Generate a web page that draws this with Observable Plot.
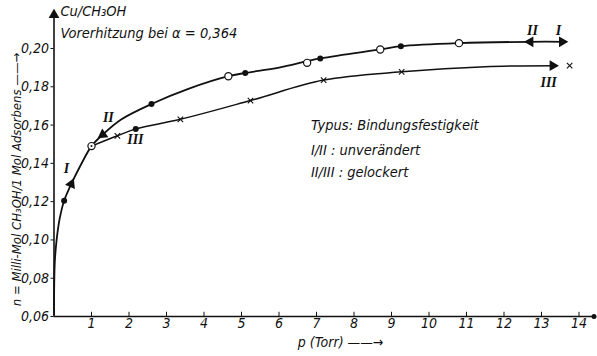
<!DOCTYPE html>
<html><head><meta charset="utf-8">
<script src="https://cdn.jsdelivr.net/npm/d3@7"></script>
<script src="https://cdn.jsdelivr.net/npm/@observablehq/plot@0.6"></script>
<style>body{margin:0;background:#fff} svg text{font-stretch:condensed}</style>
</head><body><div id="chart"></div>
<script>
// Tick values
const xTicks = [1,2,3,4,5,6,7,8,9,10,11,12,13,14];
const yTicks = [0.06,0.08,0.10,0.12,0.14,0.16,0.18,0.20];

// Curve I/II (upper) – [p, n]
const curveUpper = [[0,0.061],[0.02,0.088],[0.07,0.100],[0.15,0.111],[0.27,0.1205],[0.48,0.130],[0.71,0.139],[1.0,0.149],[1.3,0.155],[1.8,0.163],[2.6,0.171],[3.6,0.179],[4.65,0.1855],[5.1,0.1872],[6.0,0.190],[7.1,0.1948],[8.7,0.1995],[9.25,0.2012],[10.8,0.2028],[12.7,0.2035],[13.6,0.2035]];
// Curve III (lower)
const curveLower = [[1.0,0.149],[1.69,0.1544],[2.18,0.158],[3.37,0.163],[5.24,0.1728],[7.19,0.1835],[9.27,0.1878],[11.5,0.1905],[13.4,0.1910]];

// Measured points
const filledDots = [[0.27,0.1205],[2.6,0.171],[5.1,0.1872],[7.1,0.1948],[9.25,0.2012],[2.18,0.158]];
const openCircles = [[4.65,0.1855],[6.75,0.1925],[8.7,0.1995],[10.8,0.2028],[1.0,0.149]];
const crosses = [[1.69,0.1544],[3.37,0.163],[5.24,0.1728],[7.19,0.1835],[9.27,0.1878],[13.75,0.191]];

// Direction arrowheads [p, n, rotation]
const arrowHeads = [[0.46,0.1292,24],[1.3,0.155,235],[12.7,0.2035,-90],[13.55,0.2035,90],[13.3,0.191,90]];

// Curve labels [p, n, text]
const curveLabels = [[0.33,0.1372,"I"],[1.45,0.1640,"II"],[2.17,0.1524,"III"],[12.76,0.2094,"II"],[13.45,0.2094,"I"],[13.19,0.1822,"III"]];

// Annotation texts [p, n, text]
const notes = [[0.17,0.2195,"Cu/CH₃OH"],[0.17,0.2080,"Vorerhitzung bei α = 0,364"],[6.85,0.1597,"Typus: Bindungsfestigkeit"],[6.85,0.1467,"I/II : unverändert"],[6.85,0.1352,"II/III : gelockert"]];

const yLabel = "n = Milli-Mol CH₃OH/1 Mol Adsorbens ——→";
const xLabel = "p (Torr) ——→";

const FONT = "'Liberation Sans Narrow','DejaVu Sans',sans-serif";
const comma = d => d.toFixed(2).replace(".", ",");
const P = a => a.map(([x,y]) => ({x,y}));

const chart = Plot.plot({
  width: 597, height: 356,
  marginLeft: 53.5, marginRight: 3.5, marginTop: 9.7, marginBottom: 40,
  style: {fontFamily: FONT, fontStyle: "italic", fontSize: "14px", background: "#fff", color: "#111"},
  x: {domain: [0, 14.4], axis: null},
  y: {domain: [0.06, 0.22], axis: null},
  marks: [
    // axes lines
    Plot.ruleY([0.06], {x1: 0, x2: 14.4, stroke: "#111", strokeWidth: 1.6}),
    Plot.ruleX([0], {y1: 0.06, y2: 0.2185, stroke: "#111", strokeWidth: 1.6}),
    Plot.dot([{x:14.4,y:0.06}], {x:"x", y:"y", r:2.5, fill:"#111"}),
    Plot.dot([{x:0,y:0.2175}], {x:"x", y:"y", r:4, symbol:"triangle", fill:"#111", stroke:null}),
    Plot.axisY({ticks: yTicks, tickFormat: comma, tickSize: 3, tickPadding: 2, label: null, fontSize: 14}),
    Plot.ruleX(xTicks, {y1: 0.06, y2: 0.0622, stroke: "#111", strokeWidth: 1}),
    Plot.axisX({ticks: xTicks, tickFormat: d => String(d), tickSize: 0, tickPadding: 2, label: null, fontSize: 14}),
    // curves
    Plot.line(P(curveUpper), {x:"x", y:"y", curve:"catmull-rom", stroke:"#111", strokeWidth: 1.8}),
    Plot.line(P(curveLower), {x:"x", y:"y", curve:"catmull-rom", stroke:"#111", strokeWidth: 1.5}),
    // points
    Plot.dot(P(filledDots), {x:"x", y:"y", r:3, fill:"#111", stroke:null}),
    Plot.dot(P(openCircles), {x:"x", y:"y", r:3.6, fill:"#fff", stroke:"#111", strokeWidth:1.2}),
    Plot.dot([{x:1.0,y:0.149}], {x:"x", y:"y", r:1, fill:"#111"}),
    Plot.dot(P(crosses), {x:"x", y:"y", r:2.6, symbol:"times", stroke:"#111", strokeWidth:1.1}),
    Plot.dot(arrowHeads.map(([x,y,r]) => ({x,y,r})), {x:"x", y:"y", rotate:"r", r:4, symbol:"triangle", fill:"#111", stroke:null}),
    // labels
    Plot.text(curveLabels.map(([x,y,t]) => ({x,y,t})), {x:"x", y:"y", text:"t", fontFamily:"'Liberation Serif','DejaVu Serif',serif", fontWeight:"bold", fontSize:14}),
    Plot.text(notes.map(([x,y,t]) => ({x,y,t})), {x:"x", y:"y", text:"t", textAnchor:"start", fontSize:14.5}),
    Plot.text([yLabel], {frameAnchor:"left", textAnchor:"middle", rotate:-90, dx:-37, dy:16, fontSize:13}),
    Plot.text([xLabel], {frameAnchor:"bottom", x: 6.5, textAnchor:"start", dy: 30, fontSize: 14})
  ]
});
document.getElementById("chart").append(chart);
</script>
</body></html>
